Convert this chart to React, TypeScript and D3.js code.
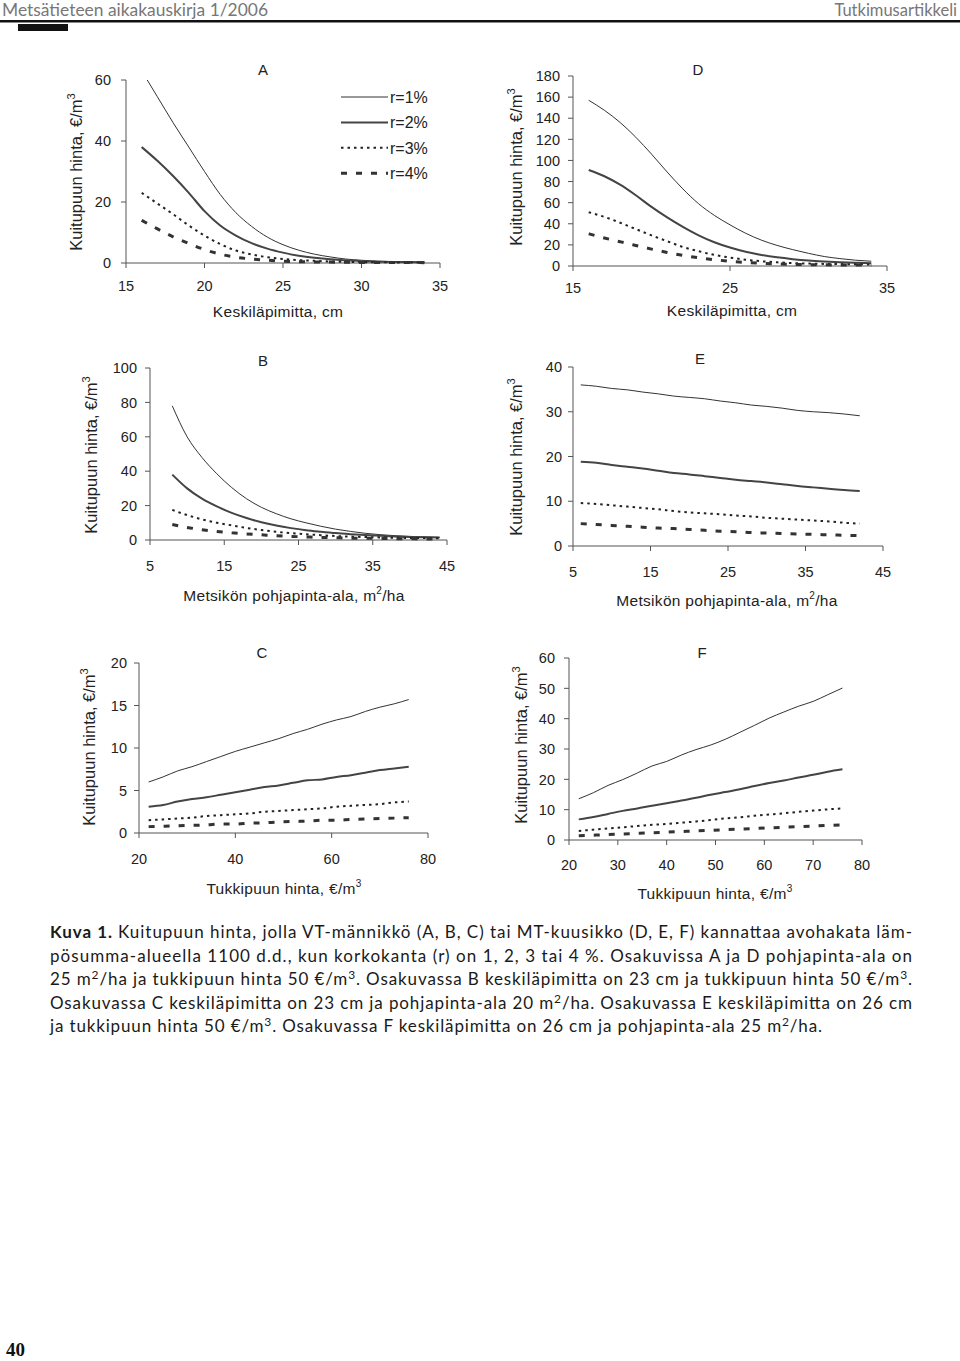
import React from 'react';
import * as d3 from 'd3';

// ---------- DATA ----------
const seriesLabels = ['r=1%', 'r=2%', 'r=3%', 'r=4%'];

// Panel A: Keskiläpimitta (cm) vs Kuitupuun hinta
const aX = [16, 17, 18, 19, 20, 21, 22, 23, 24, 25, 26, 27, 28, 29, 30, 31, 32, 33, 34];
const aR1 = [63, 54.5, 46, 38, 30, 22.5, 16.5, 12, 8.5, 6, 4.2, 2.9, 2.0, 1.3, 0.9, 0.6, 0.45, 0.35, 0.3];
const aR2 = [38, 33.5, 28.5, 23, 17, 12.3, 9, 6.5, 4.7, 3.4, 2.4, 1.7, 1.2, 0.9, 0.6, 0.45, 0.35, 0.3, 0.25];
const aR3 = [23, 19.5, 16, 12.3, 9, 6.2, 4.1, 2.8, 1.9, 1.3, 0.95, 0.7, 0.5, 0.4, 0.3, 0.25, 0.2, 0.2, 0.15];
const aR4 = [14, 11.2, 8.6, 6.4, 4.4, 2.9, 1.9, 1.3, 0.9, 0.6, 0.45, 0.35, 0.3, 0.25, 0.2, 0.2, 0.15, 0.15, 0.1];

// Panel D
const dX = [16, 17, 18, 19, 20, 21, 22, 23, 24, 25, 26, 27, 28, 29, 30, 31, 32, 33, 34];
const dR1 = [157, 147.5, 136, 122, 106, 89, 73, 59, 48, 39, 31, 24.5, 19.5, 15.5, 12, 9, 7, 5.5, 4.5];
const dR2 = [91, 85, 77, 67, 56, 46, 37, 29, 22.5, 17.5, 13.5, 10.5, 8.2, 6.5, 5.2, 4.3, 3.6, 3.1, 2.7];
const dR3 = [51, 46.5, 41, 35, 29, 23.5, 18, 14, 10.5, 8, 6, 4.5, 3.5, 2.8, 2.3, 2, 1.8, 1.6, 1.5];
const dR4 = [30.5, 26.5, 23, 19.5, 16, 12.8, 10, 7.8, 6, 4.5, 3.4, 2.6, 2.0, 1.6, 1.3, 1.1, 1.0, 0.9, 0.8];

// Panel B: Metsikön pohjapinta-ala
const bX = [8, 10, 12, 14, 16, 18, 20, 22, 24, 26, 28, 30, 32, 34, 36, 38, 40, 42, 44];
const bR1 = [78, 60, 48, 38.5, 30.5, 24, 19, 15.3, 12.3, 10, 8, 6.3, 5, 3.9, 3.1, 2.5, 2.1, 1.8, 1.5];
const bR2 = [38, 30, 24, 19.5, 15.8, 12.8, 10.3, 8.4, 6.9, 5.7, 4.8, 4.0, 3.4, 2.9, 2.5, 2.1, 1.8, 1.6, 1.4];
const bR3 = [17.5, 14.5, 12, 10, 8.5, 7, 5.8, 4.8, 4, 3.3, 2.8, 2.3, 2, 1.7, 1.5, 1.3, 1.2, 1.1, 1.0];
const bR4 = [9, 7.3, 6, 5, 4.2, 3.5, 3, 2.5, 2.1, 1.8, 1.5, 1.3, 1.1, 1, 0.9, 0.8, 0.7, 0.6, 0.6];

// Panel E
const eX = [6, 8, 10, 12, 14, 16, 18, 20, 22, 24, 26, 28, 30, 32, 34, 36, 38, 40, 42];
const eR1 = [36, 35.7, 35.2, 34.9, 34.4, 34, 33.5, 33.2, 32.9, 32.4, 32, 31.5, 31.2, 30.8, 30.3, 30, 29.8, 29.5, 29.1];
const eR2 = [18.8, 18.6, 18.1, 17.7, 17.3, 16.8, 16.3, 16, 15.6, 15.2, 14.8, 14.5, 14.2, 13.8, 13.4, 13.1, 12.8, 12.5, 12.3];
const eR3 = [9.6, 9.4, 9.1, 8.8, 8.5, 8.2, 7.8, 7.5, 7.3, 7.1, 6.8, 6.6, 6.3, 6.1, 5.9, 5.7, 5.5, 5.2, 5.0];
const eR4 = [5.0, 4.8, 4.6, 4.4, 4.2, 4.0, 3.9, 3.7, 3.5, 3.3, 3.2, 3.0, 2.9, 2.8, 2.7, 2.6, 2.5, 2.4, 2.3];

// Panel C: Tukkipuun hinta
const cX = [22, 25, 28, 31, 34, 37, 40, 43, 46, 49, 52, 55, 58, 61, 64, 67, 70, 73, 76];
const cR1 = [6.0, 6.6, 7.3, 7.8, 8.4, 9.0, 9.6, 10.1, 10.6, 11.1, 11.7, 12.2, 12.8, 13.3, 13.7, 14.3, 14.8, 15.2, 15.7];
const cR2 = [3.1, 3.3, 3.7, 4.0, 4.2, 4.5, 4.8, 5.1, 5.4, 5.6, 5.9, 6.2, 6.3, 6.6, 6.8, 7.1, 7.4, 7.6, 7.8];
const cR3 = [1.5, 1.6, 1.7, 1.8, 2.0, 2.1, 2.2, 2.3, 2.5, 2.6, 2.7, 2.8, 2.9, 3.1, 3.2, 3.3, 3.4, 3.6, 3.7];
const cR4 = [0.75, 0.8, 0.85, 0.9, 0.95, 1.05, 1.05, 1.15, 1.2, 1.3, 1.35, 1.4, 1.5, 1.5, 1.6, 1.65, 1.7, 1.75, 1.8];

// Panel F
const fX = [22, 25, 28, 31, 34, 37, 40, 43, 46, 49, 52, 55, 58, 61, 64, 67, 70, 73, 76];
const fR1 = [13.6, 15.6, 18, 19.9, 22.1, 24.4, 25.9, 28, 29.8, 31.3, 33.2, 35.5, 37.8, 40.2, 42.2, 44.1, 45.7, 47.9, 50.1];
const fR2 = [6.8, 7.6, 8.6, 9.6, 10.4, 11.3, 12.1, 13.0, 13.9, 14.9, 15.8, 16.7, 17.8, 18.8, 19.6, 20.6, 21.5, 22.5, 23.3];
const fR3 = [3.0, 3.4, 3.8, 4.2, 4.6, 5.0, 5.3, 5.7, 6.1, 6.6, 7.1, 7.5, 8.0, 8.4, 8.8, 9.3, 9.7, 10.1, 10.4];
const fR4 = [1.4, 1.6, 1.8, 2.0, 2.2, 2.4, 2.6, 2.8, 3.0, 3.2, 3.4, 3.6, 3.8, 4.0, 4.2, 4.4, 4.6, 4.8, 5.0];

// Tick values
const aXTicks = [15, 20, 25, 30, 35];
const aYTicks = [0, 20, 40, 60];
const dXTicks = [15, 25, 35];
const dYTicks = [0, 20, 40, 60, 80, 100, 120, 140, 160, 180];
const bXTicks = [5, 15, 25, 35, 45];
const bYTicks = [0, 20, 40, 60, 80, 100];
const eXTicks = [5, 15, 25, 35, 45];
const eYTicks = [0, 10, 20, 30, 40];
const cXTicks = [20, 40, 60, 80];
const cYTicks = [0, 5, 10, 15, 20];
const fXTicks = [20, 30, 40, 50, 60, 70, 80];
const fYTicks = [0, 10, 20, 30, 40, 50, 60];

const yTitleText = 'Kuitupuun hinta, €/m';
const xTitleDiam = 'Keskiläpimitta, cm';
const xTitleBasal = 'Metsikön pohjapinta-ala, m';
const xTitleLog = 'Tukkipuun hinta, €/m';

const captionLines = [
  'Kuitupuun hinta, jolla VT-männikkö (A, B, C) tai MT-kuusikko (D, E, F) kannattaa avohakata läm-',
  'pösumma-alueella 1100 d.d., kun korkokanta (r) on 1, 2, 3 tai 4 %. Osakuvissa A ja D pohjapinta-ala on',
  '25 m^2/ha ja tukkipuun hinta 50 €/m^3. Osakuvassa B keskiläpimitta on 23 cm ja tukkipuun hinta 50 €/m^3.',
  'Osakuvassa C keskiläpimitta on 23 cm ja pohjapinta-ala 20 m^2/ha. Osakuvassa E keskiläpimitta on 26 cm',
  'ja tukkipuun hinta 50 €/m^3. Osakuvassa F keskiläpimitta on 26 cm ja pohjapinta-ala 25 m^2/ha.',
];

// ---------- STYLES / LAYOUT ----------
const lineStyles = [
  { w: 1, dash: undefined as string | undefined, color: '#333' },
  { w: 2, dash: undefined as string | undefined, color: '#444' },
  { w: 2, dash: '2.5,4', color: '#222' },
  { w: 3, dash: '6,9', color: '#333' },
];

const CHART_FONT = '"Liberation Sans", Arial, sans-serif';
const TEXT_FONT = 'Lato, "Open Sans", sans-serif';

type PanelCfg = {
  id: string;
  xs: number[];
  ys: number[][];
  xDom: [number, number];
  yDom: [number, number];
  xRange: [number, number];
  yRange: [number, number];
  xTicks: number[];
  yTicks: number[];
  yLabelX: number;
  xLabelY: number;
  titlePos: [number, number];
  yTitlePos: [number, number];
  xTitle: string;
  xTitleSup: string;
  xTitleAfter: string;
  xTitlePos: [number, number];
  legend?: boolean;
};

const panels: PanelCfg[] = [
  {
    id: 'A', xs: aX, ys: [aR1, aR2, aR3, aR4], xDom: [15, 35], yDom: [0, 60],
    xRange: [126, 440], yRange: [263, 80], xTicks: aXTicks, yTicks: aYTicks,
    yLabelX: 111, xLabelY: 291, titlePos: [263, 75], yTitlePos: [82, 172],
    xTitle: xTitleDiam, xTitleSup: '', xTitleAfter: '', xTitlePos: [278, 317], legend: true,
  },
  {
    id: 'D', xs: dX, ys: [dR1, dR2, dR3, dR4], xDom: [15, 35], yDom: [0, 180],
    xRange: [573, 887], yRange: [266, 76], xTicks: dXTicks, yTicks: dYTicks,
    yLabelX: 560, xLabelY: 293, titlePos: [698, 75], yTitlePos: [522, 167],
    xTitle: xTitleDiam, xTitleSup: '', xTitleAfter: '', xTitlePos: [732, 316],
  },
  {
    id: 'B', xs: bX, ys: [bR1, bR2, bR3, bR4], xDom: [5, 45], yDom: [0, 100],
    xRange: [150, 447], yRange: [540, 368], xTicks: bXTicks, yTicks: bYTicks,
    yLabelX: 137, xLabelY: 571, titlePos: [263, 366], yTitlePos: [97, 455],
    xTitle: xTitleBasal, xTitleSup: '2', xTitleAfter: '/ha', xTitlePos: [294, 601],
  },
  {
    id: 'E', xs: eX, ys: [eR1, eR2, eR3, eR4], xDom: [5, 45], yDom: [0, 40],
    xRange: [573, 883], yRange: [546, 367], xTicks: eXTicks, yTicks: eYTicks,
    yLabelX: 562, xLabelY: 577, titlePos: [700, 364], yTitlePos: [522, 457],
    xTitle: xTitleBasal, xTitleSup: '2', xTitleAfter: '/ha', xTitlePos: [727, 606],
  },
  {
    id: 'C', xs: cX, ys: [cR1, cR2, cR3, cR4], xDom: [20, 80], yDom: [0, 20],
    xRange: [139, 428], yRange: [833, 663], xTicks: cXTicks, yTicks: cYTicks,
    yLabelX: 127, xLabelY: 864, titlePos: [262, 658], yTitlePos: [95, 747],
    xTitle: xTitleLog, xTitleSup: '3', xTitleAfter: '', xTitlePos: [284, 894],
  },
  {
    id: 'F', xs: fX, ys: [fR1, fR2, fR3, fR4], xDom: [20, 80], yDom: [0, 60],
    xRange: [569, 862], yRange: [840, 658], xTicks: fXTicks, yTicks: fYTicks,
    yLabelX: 555, xLabelY: 870, titlePos: [702, 658], yTitlePos: [527, 745],
    xTitle: xTitleLog, xTitleSup: '3', xTitleAfter: '', xTitlePos: [715, 899],
  },
];

function Panel({ cfg }: { cfg: PanelCfg }) {
  const x = d3.scaleLinear().domain(cfg.xDom).range(cfg.xRange);
  const y = d3.scaleLinear().domain(cfg.yDom).range(cfg.yRange);
  const clipId = `clip-${cfg.id}`;
  const axisColor = '#555';
  return (
    <g>
      <defs>
        <clipPath id={clipId}>
          <rect x={cfg.xRange[0]} y={cfg.yRange[1]} width={cfg.xRange[1] - cfg.xRange[0] + 5}
            height={cfg.yRange[0] - cfg.yRange[1] + 4} />
        </clipPath>
      </defs>
      <line x1={cfg.xRange[0]} x2={cfg.xRange[1]} y1={cfg.yRange[0]} y2={cfg.yRange[0]} stroke={axisColor} strokeWidth={1} />
      <line x1={cfg.xRange[0]} x2={cfg.xRange[0]} y1={cfg.yRange[0]} y2={cfg.yRange[1]} stroke={axisColor} strokeWidth={1} />
      {cfg.yTicks.map((t) => (
        <g key={'y' + t}>
          <line x1={cfg.xRange[0] - 5} x2={cfg.xRange[0]} y1={y(t)} y2={y(t)} stroke={axisColor} />
          <text x={cfg.yLabelX} y={y(t)} dy="0.36em" textAnchor="end" fontSize={14.5}
            fontFamily={CHART_FONT} fill="#222">{t}</text>
        </g>
      ))}
      {cfg.xTicks.map((t) => (
        <g key={'x' + t}>
          <line x1={x(t)} x2={x(t)} y1={cfg.yRange[0]} y2={cfg.yRange[0] + 5} stroke={axisColor} />
          <text x={x(t)} y={cfg.xLabelY} textAnchor="middle" fontSize={14.5}
            fontFamily={CHART_FONT} fill="#222">{t}</text>
        </g>
      ))}
      <g clipPath={`url(#${clipId})`}>
        {cfg.ys.map((vals, si) => {
          const line = d3.line<number>()
            .x((_, i) => x(cfg.xs[i]))
            .y((d) => y(d))
            .curve(d3.curveMonotoneX);
          const st = lineStyles[si];
          return (
            <path key={si} d={line(vals) || ''} fill="none" stroke={st.color}
              strokeWidth={st.w} strokeDasharray={st.dash} />
          );
        })}
      </g>
      <text x={cfg.titlePos[0]} y={cfg.titlePos[1]} textAnchor="middle" fontSize={15}
        fontFamily={CHART_FONT} fill="#222">{cfg.id}</text>
      <text transform={`translate(${cfg.yTitlePos[0]},${cfg.yTitlePos[1]}) rotate(-90)`}
        textAnchor="middle" fontSize={16.5} fontFamily={CHART_FONT} fill="#222">
        {yTitleText}<tspan dy={-7} fontSize={11}>3</tspan>
      </text>
      <text x={cfg.xTitlePos[0]} y={cfg.xTitlePos[1]} textAnchor="middle" fontSize={15.5}
        fontFamily={CHART_FONT} fill="#222" letterSpacing={0.3}>
        {cfg.xTitle}
        {cfg.xTitleSup && <tspan dy={-7} fontSize={10}>{cfg.xTitleSup}</tspan>}
        {cfg.xTitleAfter && <tspan dy={7}>{cfg.xTitleAfter}</tspan>}
      </text>
      {cfg.legend && seriesLabels.map((lab, i) => {
        const ly = 97 + i * 25.4;
        const st = lineStyles[i];
        return (
          <g key={lab}>
            <line x1={341} x2={388} y1={ly} y2={ly} stroke={st.color} strokeWidth={st.w}
              strokeDasharray={st.dash} />
            <text x={390} y={ly} dy="0.36em" fontSize={16} fontFamily={CHART_FONT} fill="#222">{lab}</text>
          </g>
        );
      })}
    </g>
  );
}

function renderWithSup(s: string) {
  const parts = s.split(/\^(\d)/);
  const out: React.ReactNode[] = [];
  let raised = false;
  parts.forEach((p, i) => {
    if (i % 2 === 1) {
      out.push(<tspan key={i} dy={-6} fontSize={12}>{p}</tspan>);
      raised = true;
    } else if (p.length) {
      out.push(<tspan key={i} dy={raised ? 6 : 0}>{p}</tspan>);
      raised = false;
    }
  });
  return out;
}

export default function App() {
  const baselines = [938, 961.5, 985, 1008.5, 1032];
  const widths = [862, 862, 862, 862, 772];
  return (
    <svg width={960} height={1361} style={{ position: 'absolute', left: 0, top: 0, background: '#fff' }}>
      <rect x={0} y={0} width={960} height={1361} fill="#fff" />
      <text x={2} y={16} fontSize={16.5} fontFamily={TEXT_FONT} fill="#777" textLength={266}
        lengthAdjust="spacingAndGlyphs">Metsätieteen aikakauskirja 1/2006</text>
      <text x={957} y={16} fontSize={16.5} fontFamily={TEXT_FONT} fill="#777" textAnchor="end">Tutkimusartikkeli</text>
      <rect x={0} y={20} width={960} height={2.5} fill="#111" />
      <rect x={18} y={24} width={50} height={7} fill="#111" />

      {panels.map((p) => <Panel key={p.id} cfg={p} />)}

      {captionLines.map((ln, i) => (
        <text key={i} x={50} y={baselines[i]} fontSize={17} fontFamily={TEXT_FONT} fill="#1a1a1a"
          textLength={widths[i]} lengthAdjust="spacing">
          {i === 0 && <tspan fontWeight="bold">Kuva 1. </tspan>}
          {renderWithSup(ln)}
        </text>
      ))}

      <text x={6} y={1356} fontSize={19} fontWeight="bold" fontFamily='"Liberation Serif", serif' fill="#111">40</text>
    </svg>
  );
}
